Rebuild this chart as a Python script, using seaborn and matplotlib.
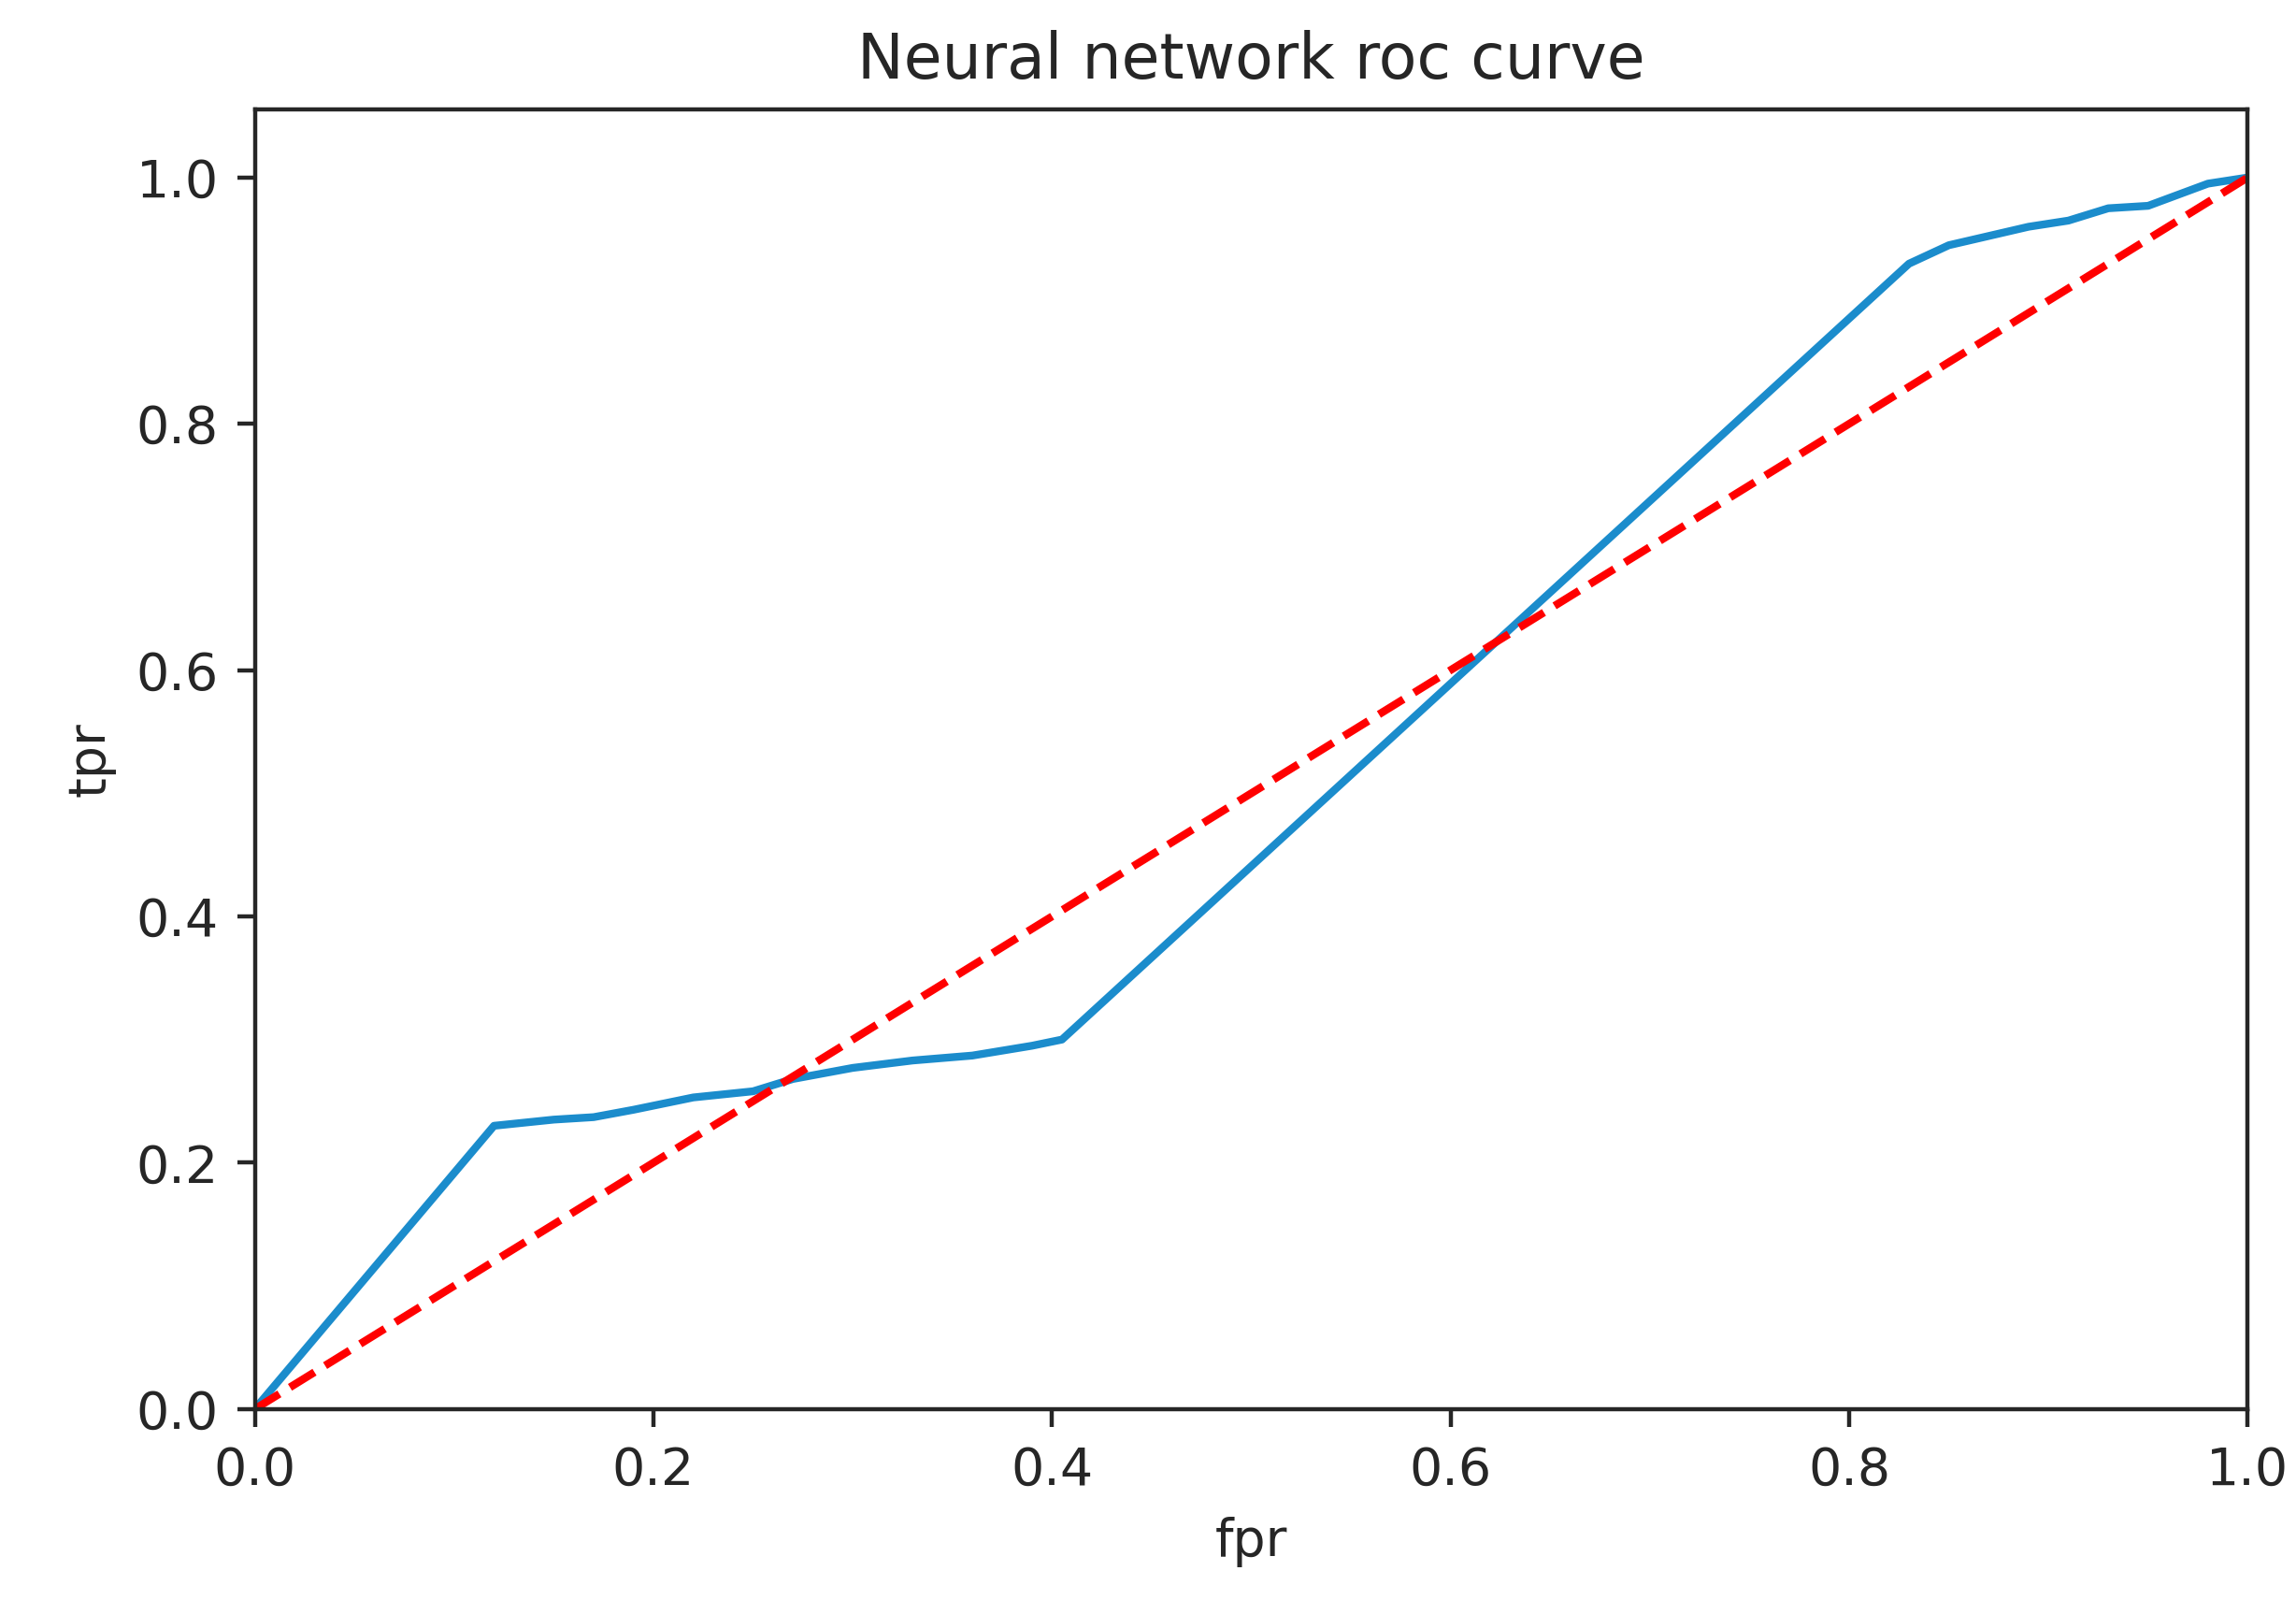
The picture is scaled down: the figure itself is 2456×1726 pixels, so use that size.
import matplotlib
matplotlib.use("Agg")
import matplotlib.pyplot as plt
import seaborn as sns
import pandas as pd

fpr = [0.0, 0.12, 0.15, 0.17, 0.19, 0.22, 0.25, 0.27, 0.30, 0.33, 0.36, 0.39, 0.405,
       0.83, 0.85, 0.89, 0.91, 0.93, 0.95, 0.98, 1.0]
tpr = [0.0, 0.23, 0.235, 0.237, 0.243, 0.253, 0.258, 0.268, 0.277, 0.283, 0.287, 0.295, 0.30,
       0.93, 0.945, 0.96, 0.965, 0.975, 0.977, 0.995, 1.0]
diag = [0.0, 1.0]

sns.set_style("ticks")
plt.rcParams['font.family'] = ['DejaVu Sans']
fig, ax = plt.subplots(figsize=(6.14, 4.315), dpi=400)
df = pd.DataFrame({"fpr": fpr, "tpr": tpr})
sns.lineplot(data=df, x="fpr", y="tpr", color="#1b8ccc", lw=1.5, ax=ax, sort=False)
sns.lineplot(x=diag, y=diag, color="red", ls="--", lw=1.5, ax=ax)
ax.set_xlim(0, 1)
ax.set_ylim(0, 1.055)
ax.set_yticks([0, 0.2, 0.4, 0.6, 0.8, 1.0])
ax.set_title("Neural network roc curve", color="#262626", fontsize=12)
ax.set_xlabel("fpr", color="#262626", fontsize=10)
ax.set_ylabel("tpr", color="#262626", fontsize=10)
ax.tick_params(labelsize=10, colors="#262626")
for s in ax.spines.values():
    s.set_color("#262626"); s.set_linewidth(0.8)
fig.subplots_adjust(left=0.111, right=0.979, top=0.932, bottom=0.127)
fig.savefig("out.png", dpi=400)
